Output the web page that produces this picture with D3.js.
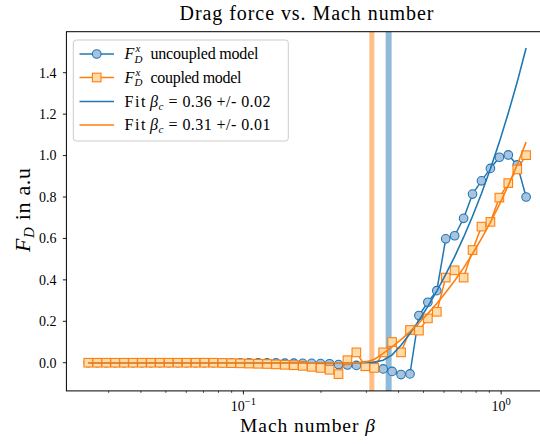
<!DOCTYPE html>
<html>
<head>
<meta charset="utf-8">
<script src="https://cdn.jsdelivr.net/npm/d3@7/dist/d3.min.js"></script>
<style>
body { margin: 0; background: #fff; }
svg text { font-family: "Liberation Serif", "Times New Roman", serif; fill: #000; }
</style>
</head>
<body>
<svg id="chart" width="540" height="444"></svg>
<script>
// Mach number grid (log spaced)
const mach = [0.02500, 0.02708, 0.02933, 0.03177, 0.03441, 0.03727, 0.04036, 0.04372, 0.04735, 0.05129,
	0.05555, 0.06017, 0.06517, 0.07058, 0.07645, 0.08281, 0.08969, 0.09714, 0.1052, 0.1140,
	0.1235, 0.1337, 0.1448, 0.1569, 0.1699, 0.1840, 0.1993, 0.2159, 0.2338, 0.2532,
	0.2743, 0.2971, 0.3218, 0.3485, 0.3775, 0.4089, 0.4429, 0.4797, 0.5196, 0.5628,
	0.6095, 0.6602, 0.7151, 0.7745, 0.8389, 0.9086, 0.9842, 1.066, 1.155, 1.250];

const uncoupled = [0, 0, 0, 0, 0, 0, 0, 0, 0, 0,
	0, 0, 0, 0, 0, 0, 0, 0, 0, 0,
	-0.001, -0.001, -0.002, -0.002, -0.003, -0.003, -0.004, -0.005, -0.009, -0.011,
	-0.013, -0.014, -0.020, -0.030, -0.042, -0.057, -0.054, 0.228, 0.292, 0.348,
	0.598, 0.613, 0.697, 0.814, 0.878, 0.938, 0.992, 1.003, 0.955, 0.800];

const coupled = [0, 0, 0, 0, 0, 0, 0, 0, 0, 0,
	0, 0, 0, 0, 0, -0.001, -0.002, -0.003, -0.004, -0.005,
	-0.006, -0.008, -0.010, -0.012, -0.015, -0.020, -0.025, -0.034, -0.055, 0.012,
	0.050, -0.017, -0.025, 0.050, 0.100, 0.050, 0.158, 0.155, 0.214, 0.246,
	0.411, 0.446, 0.411, 0.544, 0.657, 0.680, 0.797, 0.867, 0.933, 1.002];

const fitUncoupled = [0, 0, 0, 0, 0, 0, 0, 0, 0, 0,
	0, 0, 0, 0, 0, 0, 0, 0, 0, 0,
	0, 0, 0, 0, 0, 0, 0, 0, 0, 0,
	0, 0, 0.003, 0.012, 0.038, 0.084, 0.141, 0.204, 0.272, 0.346,
	0.426, 0.512, 0.606, 0.707, 0.817, 0.936, 1.065, 1.205, 1.356, 1.519];

const fitCoupled = [0, 0, 0, 0, 0, 0, 0, 0, 0, 0,
	0, 0, 0, 0, 0, 0, 0, 0, 0, 0,
	0, 0, 0, 0, 0, 0, 0, 0, 0, 0,
	0, 0.003, 0.016, 0.045, 0.077, 0.112, 0.150, 0.192, 0.237, 0.286,
	0.339, 0.396, 0.458, 0.526, 0.599, 0.678, 0.763, 0.856, 0.956, 1.065];

// critical Mach numbers (vertical lines), uncoupled then coupled
const betaC = [0.366, 0.315];

const yTicks = [0, 0.2, 0.4, 0.6, 0.8, 1.0, 1.2, 1.4];
const xMajor = [0.1, 1];
const xMajorExp = ["\u22121", "0"];
const xMinor = [0.03, 0.04, 0.05, 0.06, 0.07, 0.08, 0.09, 0.2, 0.3, 0.4, 0.5, 0.6, 0.7, 0.8, 0.9];

const fitLabels = ["0.36 +/- 0.02", "0.31 +/- 0.01"];
const modelLabels = ["uncoupled model", "coupled model"];

const blue = "#1f77b4", orange = "#ff7f0e";

const svg = d3.select("#chart");
const pl = 66.4, pr = 548, pt = 31.7, pb = 390.9;

const x = d3.scaleLog().domain([0.02056, 1.52]).range([pl, pr]);
const y = d3.scaleLinear().domain([-0.136, 1.598]).range([pb, pt]);

svg.append("defs").append("clipPath").attr("id", "plotclip")
	.append("rect").attr("x", pl).attr("y", pt)
	.attr("width", pr - pl).attr("height", pb - pt);

const plot = svg.append("g").attr("clip-path", "url(#plotclip)");

// vertical lines at beta_c
plot.selectAll("line.vc")
	.data(betaC)
	.join("line")
	.attr("class", "vc")
	.attr("x1", d => x(d)).attr("x2", d => x(d))
	.attr("y1", pt).attr("y2", pb)
	.attr("stroke", (d, i) => i === 0 ? blue : orange)
	.attr("stroke-opacity", 0.5)
	.attr("stroke-width", (d, i) => i === 0 ? 6 : 5);

const line = d3.line().x(d => x(d[0])).y(d => y(d[1]));

// data series
const pairs = (ys) => mach.map((m, i) => [m, ys[i]]);

plot.append("path").datum(pairs(uncoupled))
	.attr("d", line).attr("fill", "none")
	.attr("stroke", blue).attr("stroke-width", 1.5);
plot.selectAll("circle.unc")
	.data(pairs(uncoupled))
	.join("circle")
	.attr("class", "unc")
	.attr("cx", d => x(d[0])).attr("cy", d => y(d[1]))
	.attr("r", 4.3)
	.attr("fill", "#a9c3df").attr("stroke", blue).attr("stroke-width", 1.1);

plot.append("path").datum(pairs(coupled))
	.attr("d", line).attr("fill", "none")
	.attr("stroke", orange).attr("stroke-width", 1.5);
plot.selectAll("rect.cpl")
	.data(pairs(coupled))
	.join("rect")
	.attr("class", "cpl")
	.attr("x", d => x(d[0]) - 4.3).attr("y", d => y(d[1]) - 4.3)
	.attr("width", 8.6).attr("height", 8.6)
	.attr("fill", "#ffdcaa").attr("stroke", orange).attr("stroke-width", 1.1);

// fits
plot.append("path").datum(pairs(fitUncoupled))
	.attr("d", line).attr("fill", "none")
	.attr("stroke", blue).attr("stroke-width", 1.6);
plot.append("path").datum(pairs(fitCoupled))
	.attr("d", line).attr("fill", "none")
	.attr("stroke", orange).attr("stroke-width", 1.6);

// frame
svg.append("rect")
	.attr("x", pl).attr("y", pt)
	.attr("width", pr - pl).attr("height", pb - pt)
	.attr("fill", "none").attr("stroke", "#000").attr("stroke-width", 1);

// y axis ticks
const yAxis = svg.append("g");
yAxis.selectAll("line")
	.data(yTicks)
	.join("line")
	.attr("x1", pl - 3.5).attr("x2", pl)
	.attr("y1", d => y(d)).attr("y2", d => y(d))
	.attr("stroke", "#000").attr("stroke-width", 0.9);
yAxis.selectAll("text")
	.data(yTicks)
	.join("text")
	.attr("x", pl - 10).attr("y", d => y(d))
	.attr("dy", "0.35em")
	.attr("text-anchor", "end")
	.attr("font-size", 14)
	.text(d => d.toFixed(1));

// x axis ticks (log)
const xAxis = svg.append("g");
xAxis.selectAll("line.major")
	.data(xMajor)
	.join("line")
	.attr("class", "major")
	.attr("x1", d => x(d)).attr("x2", d => x(d))
	.attr("y1", pb).attr("y2", pb + 3.5)
	.attr("stroke", "#000").attr("stroke-width", 0.9);
xAxis.selectAll("line.minor")
	.data(xMinor)
	.join("line")
	.attr("class", "minor")
	.attr("x1", d => x(d)).attr("x2", d => x(d))
	.attr("y1", pb).attr("y2", pb + 2)
	.attr("stroke", "#000").attr("stroke-width", 0.7);
xMajor.forEach((d, i) => {
	const t = xAxis.append("text")
		.attr("x", x(d)).attr("y", pb + 20.5)
		.attr("text-anchor", "middle")
		.attr("font-size", 14);
	t.append("tspan").text("10");
	t.append("tspan").attr("dy", -6).attr("font-size", 10.5).text(xMajorExp[i]);
});

// title
svg.append("text")
	.attr("x", 306.5).attr("y", 19.5)
	.attr("text-anchor", "middle")
	.attr("font-size", 20)
	.attr("textLength", 254).attr("lengthAdjust", "spacing")
	.text("Drag force vs. Mach number");

// x label
const xl = svg.append("text")
	.attr("x", 307.5).attr("y", 432)
	.attr("text-anchor", "middle")
	.attr("font-size", 19.5)
	.attr("textLength", 135).attr("lengthAdjust", "spacing");
xl.append("tspan").text("Mach number ");
xl.append("tspan").attr("font-style", "italic").text("\u03b2");

// y label
const yl = svg.append("text")
	.attr("transform", "translate(29.5,210) rotate(-90)")
	.attr("text-anchor", "middle")
	.attr("font-size", 22)
	.attr("textLength", 84).attr("lengthAdjust", "spacing");
yl.append("tspan").attr("font-style", "italic").text("F");
yl.append("tspan").attr("font-style", "italic").attr("font-size", 15).attr("dy", 4).text("D");
yl.append("tspan").attr("dy", -4).text(" in a.u");

// legend
const lg = svg.append("g");
lg.append("rect")
	.attr("x", 73.3).attr("y", 40)
	.attr("width", 215).attr("height", 101)
	.attr("rx", 3)
	.attr("fill", "#fff").attr("fill-opacity", 0.8)
	.attr("stroke", "#cccccc").attr("stroke-width", 1);

const rowY = [54, 77.5, 101.5, 125];
const colors = [blue, orange, blue, orange];
rowY.forEach((ry, i) => {
	lg.append("line")
		.attr("x1", 79.5).attr("x2", 114)
		.attr("y1", ry).attr("y2", ry)
		.attr("stroke", colors[i]).attr("stroke-width", 1.6);
});
lg.append("circle")
	.attr("cx", 96.7).attr("cy", rowY[0]).attr("r", 4.3)
	.attr("fill", "#a9c3df").attr("stroke", blue).attr("stroke-width", 1.1);
lg.append("rect")
	.attr("x", 96.7 - 4.3).attr("y", rowY[1] - 4.3)
	.attr("width", 8.6).attr("height", 8.6)
	.attr("fill", "#ffdcaa").attr("stroke", orange).attr("stroke-width", 1.1);

const modelWidths = [108, 91];
modelLabels.forEach((lab, i) => {
	const ry = rowY[i] + 5;
	lg.append("text").attr("x", 124.5).attr("y", ry)
		.attr("font-size", 16).attr("font-style", "italic").text("F");
	lg.append("text").attr("x", 135.5).attr("y", ry - 7)
		.attr("font-size", 11).attr("font-style", "italic").text("x");
	lg.append("text").attr("x", 134.5).attr("y", ry + 3.5)
		.attr("font-size", 11).attr("font-style", "italic").text("D");
	lg.append("text").attr("x", 150.5).attr("y", ry)
		.attr("font-size", 16)
		.attr("textLength", modelWidths[i]).attr("lengthAdjust", "spacing")
		.text(lab);
});

fitLabels.forEach((lab, i) => {
	const ry = rowY[i + 2] + 5;
	lg.append("text").attr("x", 124.5).attr("y", ry).attr("font-size", 16)
		.attr("textLength", 21).attr("lengthAdjust", "spacing").text("Fit");
	lg.append("text").attr("x", 150).attr("y", ry).attr("font-size", 16)
		.attr("font-style", "italic").text("\u03b2");
	lg.append("text").attr("x", 158.5).attr("y", ry + 3).attr("font-size", 11)
		.attr("font-style", "italic").text("c");
	lg.append("text").attr("x", 168.5).attr("y", ry).attr("font-size", 16)
		.attr("textLength", 102).attr("lengthAdjust", "spacing").text("= " + lab);
});
</script>
</body>
</html>
